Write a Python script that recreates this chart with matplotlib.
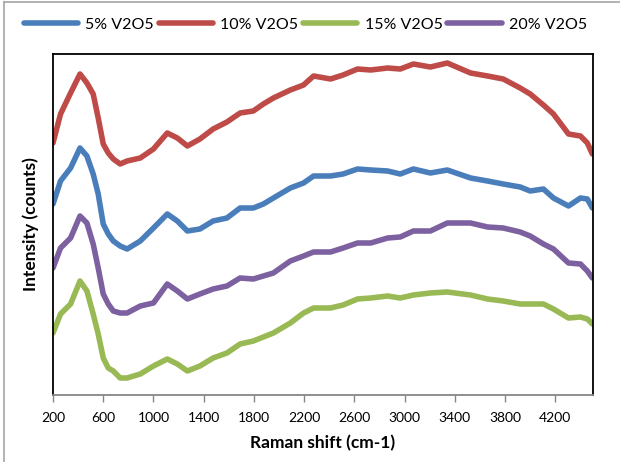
import matplotlib
matplotlib.use("Agg")
import matplotlib.pyplot as plt
from matplotlib.lines import Line2D

plt.rcParams['font.family'] = ['Lato', 'DejaVu Sans']

# Raman shift positions (cm-1)
shift = [200, 260, 340, 415, 470, 520, 560, 600, 640, 680, 735, 790, 895,
         1000, 1110, 1190, 1270, 1370, 1475, 1585, 1690, 1795, 1875, 1955,
         2090, 2195, 2275, 2410, 2510, 2625, 2730, 2865, 2965, 3070, 3205,
         3340, 3525, 3660, 3785, 3920, 4000, 4105, 4185, 4305, 4400, 4455,
         4495]

int_5 = [191, 214, 227, 247, 239, 221, 201, 171, 161, 154, 149, 146, 154,
         167, 181, 174, 164, 166, 174, 177, 187, 187, 191, 197,
         207, 212, 219, 219, 221, 226, 225, 224, 221, 226, 222,
         225, 217, 214, 211, 208, 204, 206, 197, 189, 197, 196,
         187]

int_10 = [252, 281, 302, 321, 312, 301, 277, 251, 242, 236, 231, 234, 237,
          246, 262, 257, 249, 256, 266, 273, 282, 284, 291, 297,
          305, 310, 319, 316, 320, 326, 325, 327, 326, 331, 328,
          332, 322, 319, 316, 307, 301, 290, 281, 261, 259, 252,
          241]

int_15 = [62, 81, 91, 114, 104, 81, 61, 37, 27, 24, 17, 17, 21,
          29, 36, 31, 24, 29, 37, 42, 51, 54, 58, 62,
          72, 82, 87, 87, 90, 96, 97, 99, 97, 100, 102,
          103, 100, 96, 94, 91, 91, 91, 86, 77, 78, 76,
          71]

int_20 = [127, 147, 157, 179, 172, 151, 127, 101, 91, 84, 82, 82, 89,
          92, 111, 104, 96, 101, 106, 109, 117, 116, 119, 122,
          134, 139, 143, 143, 147, 152, 152, 157, 158, 164, 164,
          172, 172, 168, 167, 163, 159, 151, 146, 132, 131, 124,
          117]

labels = ['5% V2O5', '10% V2O5', '15% V2O5', '20% V2O5']
colors = ['#4A7EBB', '#BE4B48', '#98B954', '#7D60A0']
series = [int_5, int_10, int_15, int_20]
xticks = [200, 600, 1000, 1400, 1800, 2200, 2600, 3000, 3400, 3800, 4200]

W, H = 620, 462
fig = plt.figure(figsize=(W / 100, H / 100), dpi=100)
ax = fig.add_axes([53 / W, 1 - 395 / H, (593 - 53) / W, (395 - 54) / H])

for y, c, lab in zip(series, colors, labels):
    ax.plot(shift, y, color=c, lw=4.0, label=lab,
            solid_capstyle='round', solid_joinstyle='round')

ax.set_xlim(200, 4500)
ax.set_ylim(0, 341)
ax.set_xticks(xticks)
ax.set_xticklabels([str(t) for t in xticks], fontsize=10)
ax.set_yticks([])
ax.tick_params(axis='x', direction='out', length=5, width=1, color='#868686', pad=7)
for side in ['left', 'right', 'top']:
    ax.spines[side].set_color('black')
    ax.spines[side].set_linewidth(1.3)
ax.spines['bottom'].set_color('#868686')
ax.spines['bottom'].set_linewidth(1.3)

ax.set_xlabel('Raman shift (cm-1)', fontsize=12.5, fontweight='bold', labelpad=8)
ax.set_ylabel('Intensity (counts)', fontsize=12.5, fontweight='bold', labelpad=10)

fig.legend(loc='center left', bbox_to_anchor=(24 / W, 1 - 25 / H), ncol=4,
           frameon=False, fontsize=11.5, handlelength=3.4, handletextpad=0.45,
           columnspacing=0.3, borderpad=0, borderaxespad=0)

# chart border (left and top edges)
fig.add_artist(Line2D([4 / W, 4 / W], [0, 1 - 2 / H], transform=fig.transFigure,
                      color='#A6A6A6', lw=1.2))
fig.add_artist(Line2D([4 / W, 1], [1 - 2 / H, 1 - 2 / H], transform=fig.transFigure,
                      color='#A6A6A6', lw=1.2))

fig.savefig('out.png', dpi=100)
